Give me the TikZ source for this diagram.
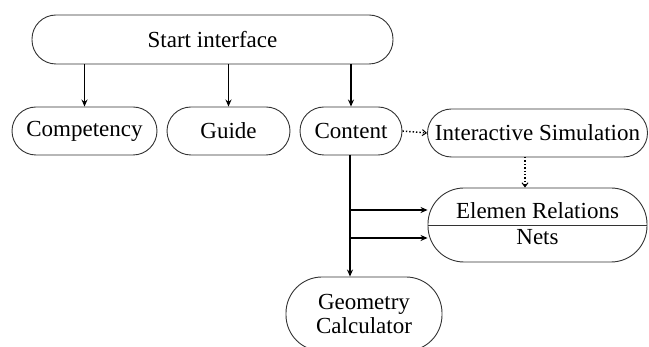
\documentclass[tikz,border=0pt]{standalone}
\usepackage{fontspec}
\setmainfont{Liberation Serif}
\usetikzlibrary{arrows.meta,calc}
\begin{document}
\begin{tikzpicture}[x=1pt,y=-1pt,
  box/.style={draw=black!80,line width=0.9pt,rounded corners=#1,align=center,inner sep=0pt,
    font=\fontsize{23}{24}\selectfont},
  box/.default=24pt,
  arr/.style={line width=1.6pt,-{Stealth[length=7pt,width=6pt]}},
  darr/.style={line width=1.4pt,dotted,-{Straight Barb[length=4pt,width=6pt,line width=1pt]}}]
\useasboundingbox (0,0) rectangle (649,347);
\begin{scope}
\clip (0,0) rectangle (649,347);
\node[box,minimum width=361pt,minimum height=49pt] (start) at (212.5,39.5) {Start interface};
\node[box,minimum width=145pt,minimum height=48pt] (comp) at (84.5,131) {Competency};
\node[box,minimum width=123pt,minimum height=48pt] (guide) at (228.5,131) {Guide};
\node[box,minimum width=102pt,minimum height=48pt] (content) at (351,131) {Content};
\node[box,minimum width=220pt,minimum height=48pt] (inter) at (537.5,133) {Interactive Simulation};
\node[box=36pt,minimum width=219pt,minimum height=74pt] (elem) at (537.5,225) {};
\node[font=\fontsize{23}{24}\selectfont,inner sep=0pt] (elemtop) at (537.5,211) {Elemen Relations};
\node[font=\fontsize{23}{24}\selectfont,inner sep=0pt] (nets) at (537.5,237) {Nets};
\node[box=36pt,minimum width=156pt,minimum height=74pt] (geo) at (364,314) {Geometry\\Calculator};
\end{scope}
\draw[draw=black!80,line width=0.9pt] (elem.west) -- (elem.east);
\draw[arr] (comp.north |- start.south) -- (comp.north);
\draw[arr] (guide.north |- start.south) -- (guide.north);
\draw[arr] (content.north |- start.south) -- (content.north);
\draw[darr] (content.east) -- (inter.west);
\coordinate (d1) at (525,157);
\draw[darr] (d1) -- (d1 |- elem.north);
\coordinate (c0) at (350,155);
\draw[arr] (c0) -- (c0 |- geo.north);
\coordinate (b1) at (350,210);
\coordinate (b2) at (350,238);
\draw[arr] (b1) -- (b1 -| elem.west);
\draw[arr] (b2) -- (b2 -| elem.west);
\end{tikzpicture}
\end{document}
